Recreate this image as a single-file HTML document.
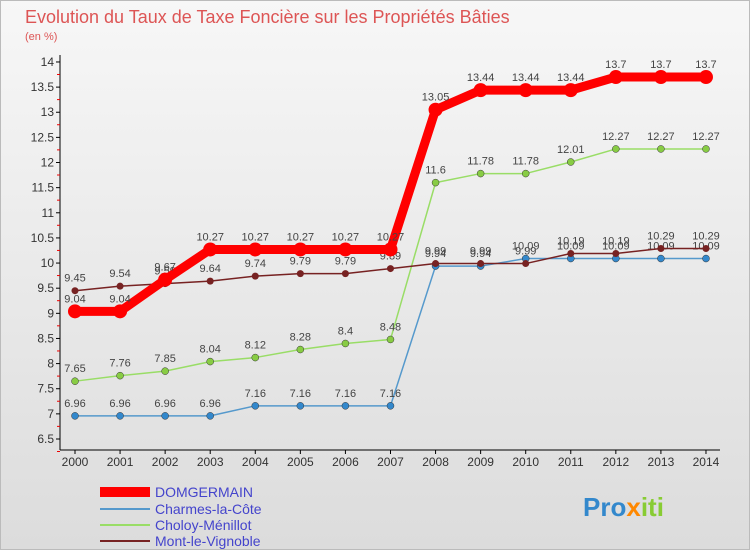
<!DOCTYPE html>
<html><head><meta charset="utf-8"><style>
body{margin:0;width:750px;height:550px;overflow:hidden;font-family:"Liberation Sans",sans-serif;}
</style></head><body>
<svg width="750" height="550" xmlns="http://www.w3.org/2000/svg" id="svg">
<defs><linearGradient id="bg" x1="0" y1="0" x2="0" y2="1"><stop offset="0" stop-color="#f7f7f7"/><stop offset="1" stop-color="#dcdcdc"/></linearGradient></defs>
<rect x="0.5" y="0.5" width="749" height="549" fill="url(#bg)" stroke="#bbb"/>
<text x="25" y="23" font-size="18" fill="#d55">Evolution du Taux de Taxe Foncière sur les Propriétés Bâties</text>
<text x="25" y="40" font-size="11" fill="#d55">(en %)</text>
<g id="axes"></g><g id="series"></g>
<g>
<rect x="100" y="487" width="50" height="10" fill="#f00"/>
<text x="155" y="497" font-size="14" fill="#44c">DOMGERMAIN</text>
<rect x="100" y="508" width="50" height="2" fill="#5599cc"/>
<text x="155" y="514" font-size="14" fill="#44c">Charmes-la-Côte</text>
<rect x="100" y="524" width="50" height="2" fill="#99dd66"/>
<text x="155" y="530" font-size="14" fill="#44c">Choloy-Ménillot</text>
<rect x="100" y="540" width="50" height="2" fill="#772222"/>
<text x="155" y="546" font-size="14" fill="#44c">Mont-le-Vignoble</text>
</g>
<text x="583" y="516" font-size="26" font-weight="bold" fill="#3388cc">Pro<tspan fill="#f80">x</tspan><tspan fill="#8c3">iti</tspan></text>
</svg>
<script>
const years=[2000,2001,2002,2003,2004,2005,2006,2007,2008,2009,2010,2011,2012,2013,2014];
const domgermain=[9.04,9.04,9.67,10.27,10.27,10.27,10.27,10.27,13.05,13.44,13.44,13.44,13.7,13.7,13.7];
const charmes=[6.96,6.96,6.96,6.96,7.16,7.16,7.16,7.16,9.94,9.94,10.09,10.09,10.09,10.09,10.09];
const choloy=[7.65,7.76,7.85,8.04,8.12,8.28,8.4,8.48,11.6,11.78,11.78,12.01,12.27,12.27,12.27];
const mont=[9.45,9.54,9.59,9.64,9.74,9.79,9.79,9.89,9.99,9.99,9.99,10.19,10.19,10.29,10.29];
const yTicks=[6.5,7,7.5,8,8.5,9,9.5,10,10.5,11,11.5,12,12.5,13,13.5,14];
const NS="http://www.w3.org/2000/svg";
const xS=i=>75+i*45.07, yS=v=>439-(v-6.5)*50.27;
function mk(t,a,p){const e=document.createElementNS(NS,t);for(const k in a)e.setAttribute(k,a[k]);p.appendChild(e);return e;}
const ax=document.getElementById('axes'),sg=document.getElementById('series');
let e=mk('line',{x1:60,y1:55,x2:60,y2:450,stroke:'#000'},ax);


e=mk('line',{x1:60,y1:450,x2:720,y2:450,stroke:'#000'},ax);


yTicks.forEach(v=>{const y=yS(v);
 mk('line',{x1:56,y1:y,x2:60,y2:y,stroke:'#000'},ax);
 mk('line',{x1:57,y1:y+12.5,x2:60,y2:y+12.5,stroke:'#e00'},ax);
 const t=mk('text',{x:54,y:y+4,'font-size':12,'text-anchor':'end',fill:'#333'},ax);t.textContent=v;
 
 });
years.forEach((yr,i)=>{const x=xS(i);
 mk('line',{x1:x,y1:450,x2:x,y2:454,stroke:'#000'},ax);
 const t=mk('text',{x:x,y:466,'font-size':12,'text-anchor':'middle',fill:'#333'},ax);t.textContent=yr;
 
 });
function draw(data,color,w,r,name,fill){
 const pts=data.map((v,i)=>xS(i)+','+yS(v)).join(' ');
 const l=mk('polyline',{points:pts,fill:'none',stroke:color,'stroke-width':w,'stroke-linejoin':'round'},sg);
 
 
 data.forEach((v,i)=>{const c=mk('circle',{cx:xS(i),cy:yS(v),r:r,fill:fill,stroke:fill==color?'none':'#333','stroke-width':0.5},sg);
  
  
  const t=mk('text',{x:xS(i),y:yS(v)-9,'font-size':11,'text-anchor':'middle',fill:'#444'},sg);t.textContent=v;
  
  });
}
draw(charmes,'#5599cc',1.5,3.5,'charmes','#3388cc');
draw(choloy,'#99dd66',1.5,3.5,'choloy','#88cc44');
draw(mont,'#772222',1.5,3.5,'mont','#772222');
draw(domgermain,'#ff0000',9,7,'domgermain','#ff0000');
</script>
</body></html>
